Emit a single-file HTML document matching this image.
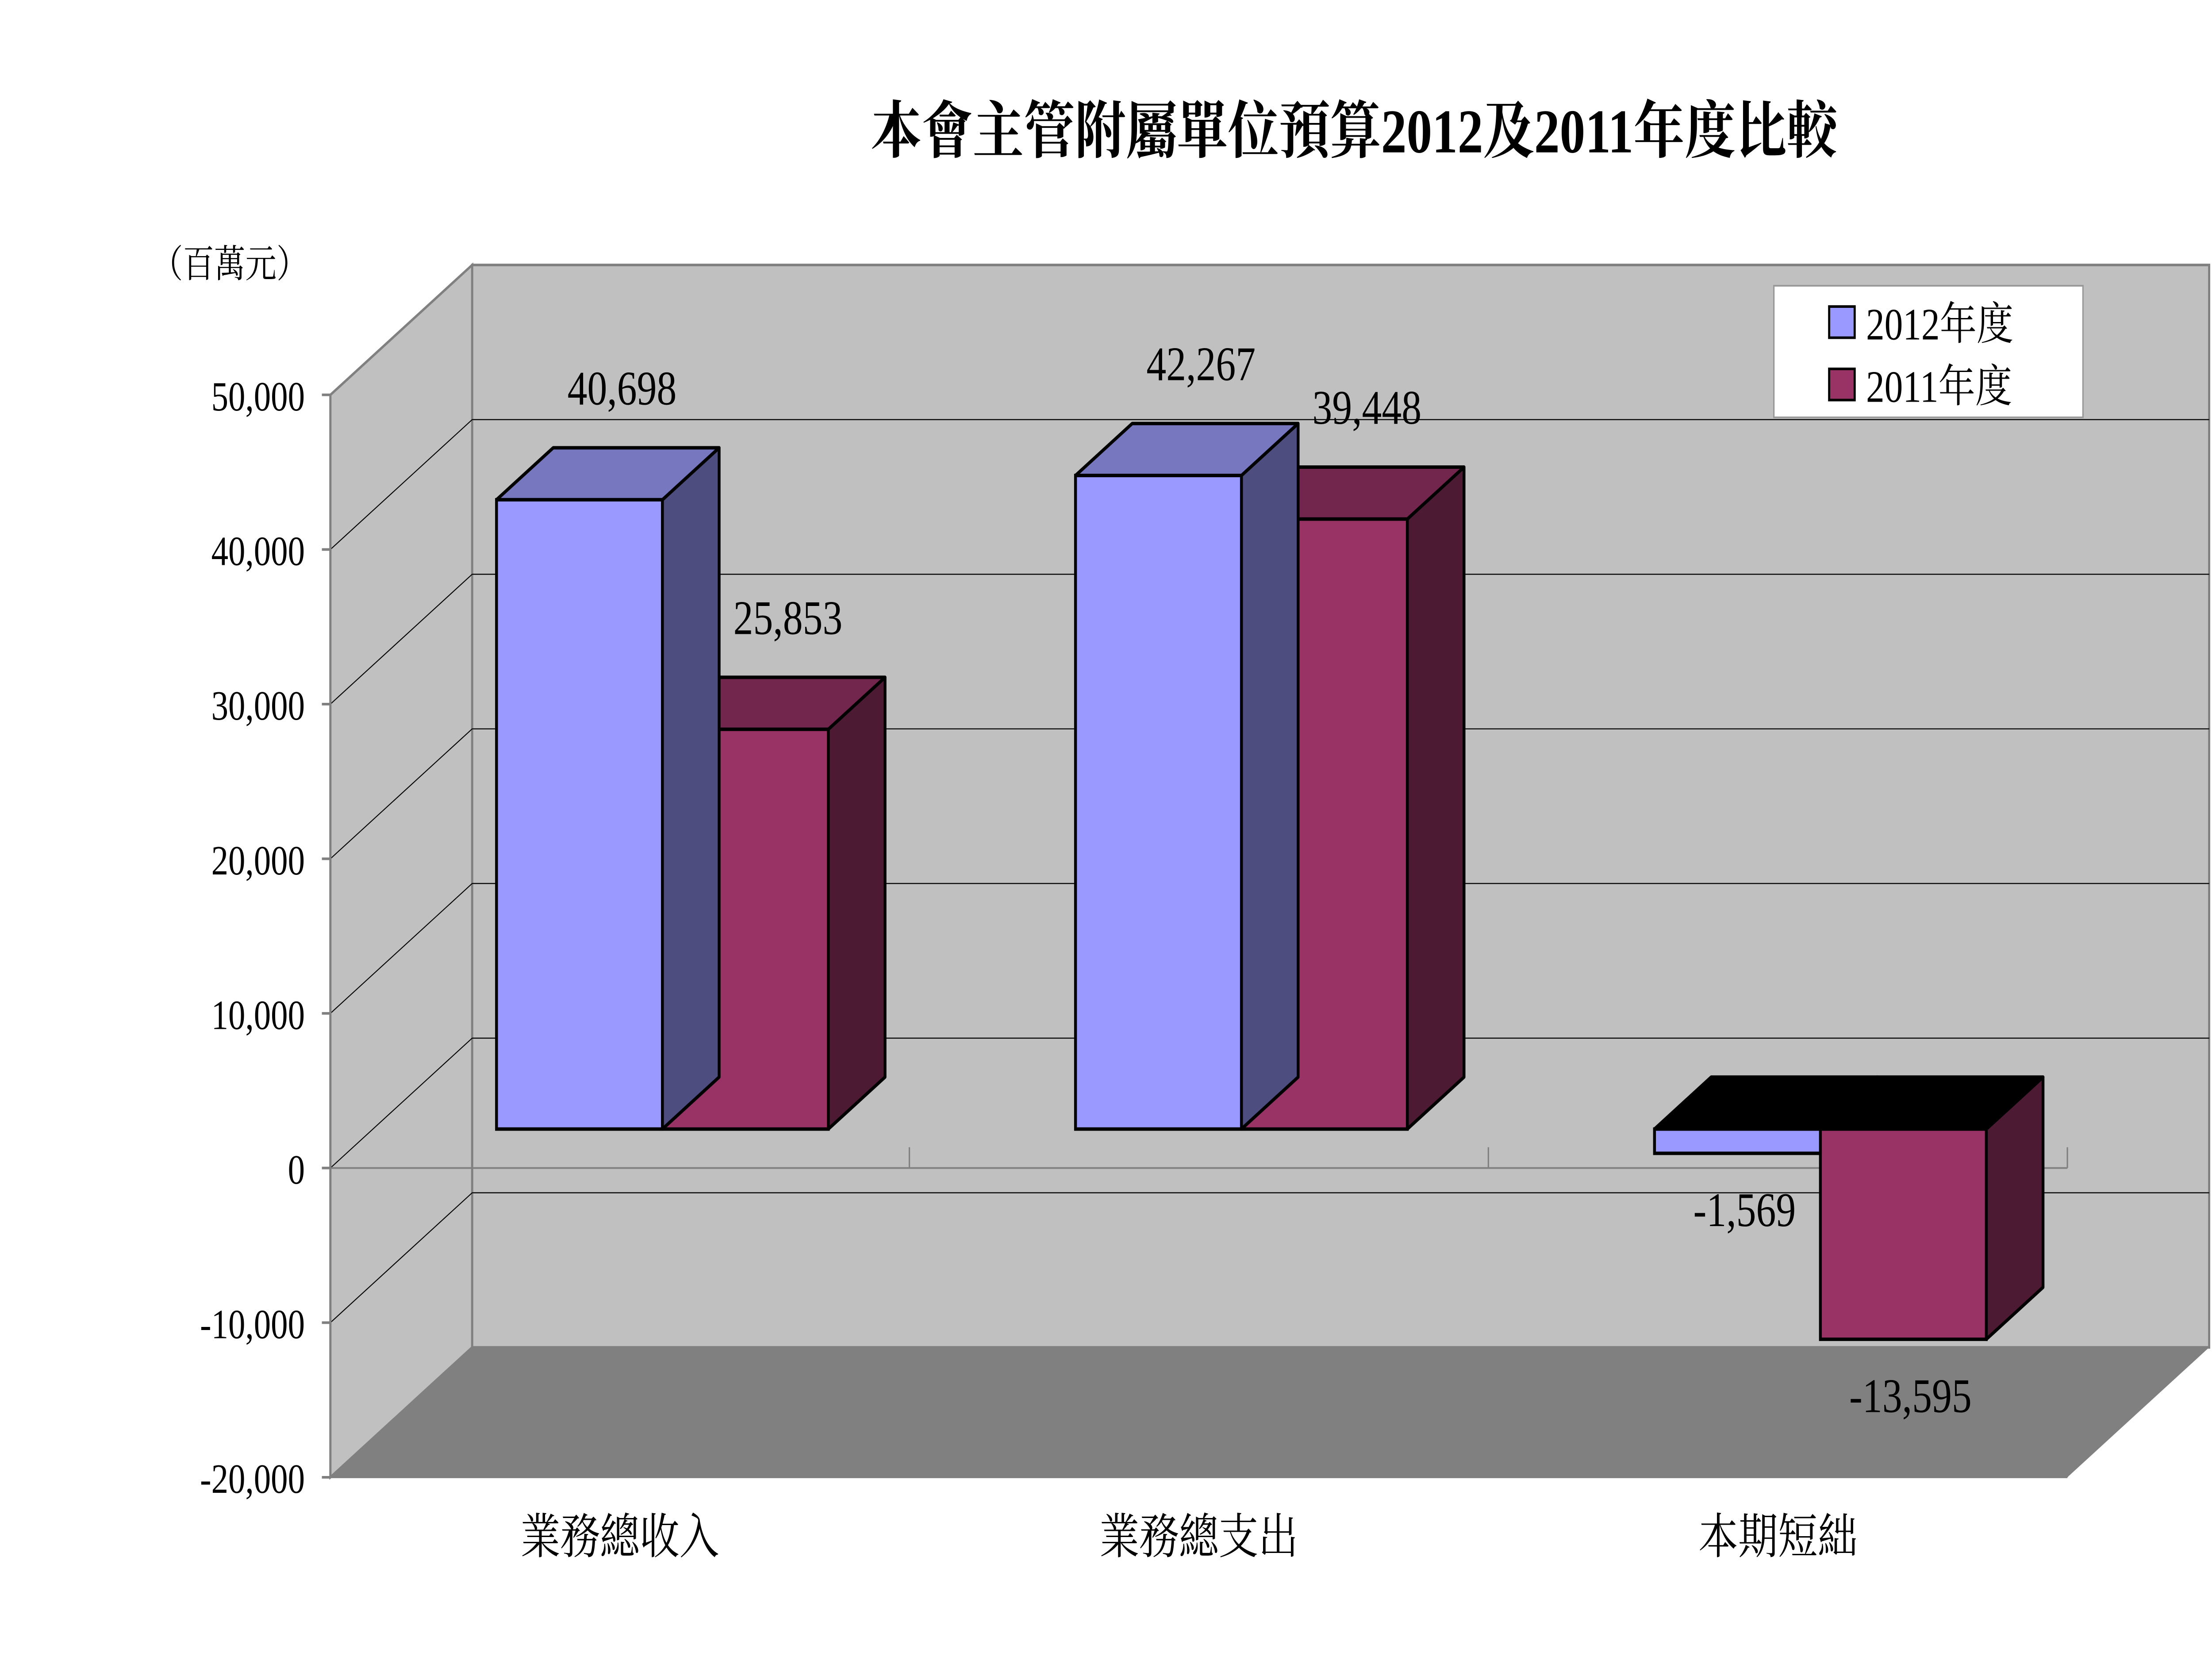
<!DOCTYPE html>
<html><head><meta charset="utf-8"><style>
html,body{margin:0;padding:0;background:#fff;width:100%;height:100%;overflow:hidden;}
svg{display:block;width:100vw;height:100vh;}
text{font-family:"Liberation Serif","Noto Serif CJK SC","Noto Sans CJK TC",serif;fill:#000;}
</style></head><body>
<svg id="chart" viewBox="0 0 1560 958.5" preserveAspectRatio="none" xmlns="http://www.w3.org/2000/svg">
<rect x="0" y="0" width="1560" height="958.5" fill="#fff"/>
<text x="955" y="88" font-size="36" font-weight="bold" text-anchor="middle">本會主管附屬單位預算2012及2011年度比較</text>
<text x="162" y="160" font-size="22" text-anchor="middle">（百萬元）</text>
<g id="walls"></g>
<g id="grid"></g>
<g id="ticks"></g>
<g id="bars"></g>
<g id="labels"></g>
<g id="cats"></g>
<g>
<rect x="1251" y="165" width="218" height="76" fill="#fff" stroke="#999" stroke-width="1"/>
<rect x="1290" y="177" width="18" height="18" fill="#9999ff" stroke="#000" stroke-width="1.5"/>
<text x="1316" y="196" font-size="26">2012年度</text>
<rect x="1290" y="213" width="18" height="18" fill="#993366" stroke="#000" stroke-width="1.5"/>
<text x="1316" y="232" font-size="26">2011年度</text>
</g>
</svg>
<script>
const categories = ["業務總收入","業務總支出","本期短絀"];
const series2012 = [40698, 42267, -1569];
const series2011 = [25853, 39448, -13595];
const tickValues = [50000,40000,30000,20000,10000,0,-10000,-20000];
const tickLabels = ["50,000","40,000","30,000","20,000","10,000","0","-10,000","-20,000"];
const valueLabels2012 = ["40,698","42,267","-1,569"];
const valueLabels2011 = ["25,853","39,448","-13,595"];

const NS="http://www.w3.org/2000/svg";
const yMax=50000,yMin=-20000, fTop=228, fBot=853, ax=233, axR=1458, DX=100, DY=-75;
function yFront(v){return fBot-(v-yMin)/(yMax-yMin)*(fBot-fTop);}
const catW=(axR-ax)/categories.length;
function mk(tag,attrs,parent){const e=document.createElementNS(NS,tag);for(const k in attrs)e.setAttribute(k,attrs[k]);parent.appendChild(e);return e;}
const walls=document.getElementById('walls'),grid=document.getElementById('grid'),ticks=document.getElementById('ticks'),bars=document.getElementById('bars'),labels=document.getElementById('labels'),cats=document.getElementById('cats');
const pts=a=>a.map(p=>p.join(',')).join(' ');
let e;
e=mk('polygon',{points:pts([[ax,fTop],[ax+DX,fTop+DY],[ax+DX,fBot+DY],[ax,fBot]]),fill:'#c0c0c0',stroke:'#808080','stroke-width':1.5},walls);


e=mk('rect',{x:ax+DX,y:fTop+DY,width:1558-ax-DX,height:fBot-fTop,fill:'#c0c0c0',stroke:'#808080','stroke-width':1.5},walls);


e=mk('polygon',{points:pts([[ax,fBot],[ax+DX,fBot+DY],[1558,fBot+DY],[axR,fBot]]),fill:'#808080'},walls);


tickValues.forEach((v,i)=>{
  const y=yFront(v);
  if(i>0&&i<tickValues.length-1){
    e=mk('line',{x1:ax,y1:y,x2:ax+DX,y2:y+DY,stroke:'#000','stroke-width':0.6},grid);
    
    
    e=mk('line',{x1:ax+DX,y1:y+DY,x2:1558,y2:y+DY,stroke:'#000','stroke-width':0.6},grid);
    
    
  }
  e=mk('line',{x1:ax-6,y1:y,x2:ax,y2:y,stroke:'#808080','stroke-width':1.5},ticks);
  
  
  e=mk('text',{x:215,y:y+9,'font-size':24,'text-anchor':'end'},ticks);
  e.textContent=tickLabels[i];
  
  
});
e=mk('line',{x1:ax,y1:fTop,x2:ax,y2:fBot,stroke:'#808080','stroke-width':1.5},ticks);


const y0=yFront(0);
e=mk('line',{x1:ax,y1:y0,x2:axR,y2:y0,stroke:'#808080','stroke-width':1},grid);


for(let i=1;i<=categories.length;i++){
  const x=ax+catW*i;
  e=mk('line',{x1:x,y1:y0-12,x2:x,y2:y0,stroke:'#808080','stroke-width':1},grid);
  
  
  e=mk('line',{x1:x,y1:fBot-12,x2:x,y2:fBot,stroke:'#808080','stroke-width':1},grid);
  
  
}
e=mk('line',{x1:ax,y1:fBot,x2:axR,y2:fBot,stroke:'#808080','stroke-width':1},grid);


const off=0.3, bdx=40, bdy=-30, bw=117;
function yBar(v){return yFront(v)+DY*off;}
const colors=[{f:'#9999ff',t:'#7777c0',s:'#4d4d80'},{f:'#993366',t:'#73264d',s:'#4d1a33'}];
const seriesList=[series2012,series2011], labelList=[valueLabels2012,valueLabels2011];
categories.forEach((c,ci)=>{
  const cx=ax+DX*off+catW*(ci+0.5);
  for(let si=1;si>=0;si--){
    const v=seriesList[si][ci];
    const x=cx-bw+si*bw;
    const yt=yBar(Math.max(v,0)), yb=yBar(Math.min(v,0));
    const col=colors[si];
    const g=mk('g',{},bars);
    
    
    if(!(v<0 && si===0)){
      mk('polygon',{points:pts([[x+bw,yt],[x+bw+bdx,yt+bdy],[x+bw+bdx,yb+bdy],[x+bw,yb]]),fill:col.s,stroke:'#000','stroke-width':2,'stroke-linejoin':'round'},g);
    }
    mk('polygon',{points:pts([[x,yt],[x+bdx,yt+bdy],[x+bw+bdx,yt+bdy],[x+bw,yt]]),fill:v<0?'#000':col.t,stroke:'#000','stroke-width':2,'stroke-linejoin':'round'},g);
    mk('rect',{x:x,y:yt,width:bw,height:Math.max(yb-yt,0.5),fill:col.f,stroke:'#000','stroke-width':2},g);
    const t=mk('text',{x:x+bw/2+(v>=0?30:5),'font-size':28,'text-anchor':'middle'},labels);
    t.setAttribute('y', v>=0 ? yt+bdy-25 : yb+42);
    t.textContent=labelList[si][ci];
    
    
  }
  const t=mk('text',{x:ax+catW*(ci+0.5),y:897,'font-size':28,'text-anchor':'middle'},cats);
  t.textContent=c;
  
  
});
</script>
</body></html>
